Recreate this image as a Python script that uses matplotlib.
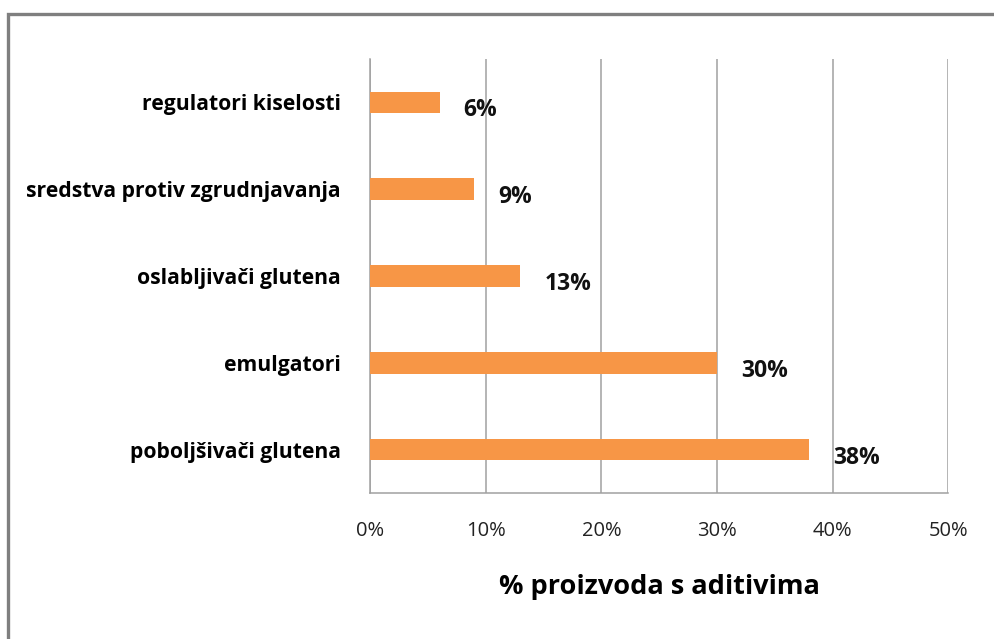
import matplotlib.pyplot as plt
from matplotlib.patches import Rectangle
from matplotlib.ticker import PercentFormatter

categories = ['poboljšivači glutena', 'emulgatori', 'oslabljivači glutena',
              'sredstva protiv zgrudnjavanja', 'regulatori kiselosti']
values = [38, 30, 13, 9, 6]
xticks = [0, 10, 20, 30, 40, 50]
xlabel = '% proizvoda s aditivima'

plt.rcParams['font.family'] = ['Open Sans', 'DejaVu Sans']

fig = plt.figure(figsize=(9.95, 6.39), dpi=100)
ax = fig.add_axes([0.372, 0.2285, 0.581, 0.679])

y = range(len(categories))
ax.barh(y, values, height=0.25, color='#F79646', zorder=3)

# value labels to the right of each bar, a little below centre
for i, v in enumerate(values):
    ax.annotate(f'{v}%', (v, i), xytext=(24, -8), textcoords='offset pixels',
                ha='left', va='center', fontsize=16.5, fontweight='bold', color='#111111')

ax.set_xlim(0, 50)
ax.set_ylim(-0.5, len(categories) - 0.5)
ax.set_xticks(xticks)
ax.xaxis.set_major_formatter(PercentFormatter(decimals=0))
ax.set_yticks(list(y))
ax.set_yticklabels(categories, fontsize=15.2, fontweight='bold')
ax.tick_params(axis='y', length=0, pad=21)
ax.tick_params(axis='x', length=0, pad=20, labelsize=14.5, labelcolor='#222222')
ax.grid(axis='x', color='#A0A0A0', linewidth=1.1, zorder=0)
ax.set_xlabel(xlabel, fontsize=19.5, fontweight='bold', labelpad=24)

for s in ['top', 'right']:
    ax.spines[s].set_visible(False)
for s in ['left', 'bottom']:
    ax.spines[s].set_color('#A0A0A0')
    ax.spines[s].set_linewidth(1.1)

# outer chart frame (only top and left visible in the crop)
fig.patches.append(Rectangle((8 / 995, -0.1), 1.2, 1 - 14 / 639 + 0.1, transform=fig.transFigure,
                             fill=False, edgecolor='#7F7F7F', linewidth=2.4))

fig.savefig('out.png', dpi=100)
